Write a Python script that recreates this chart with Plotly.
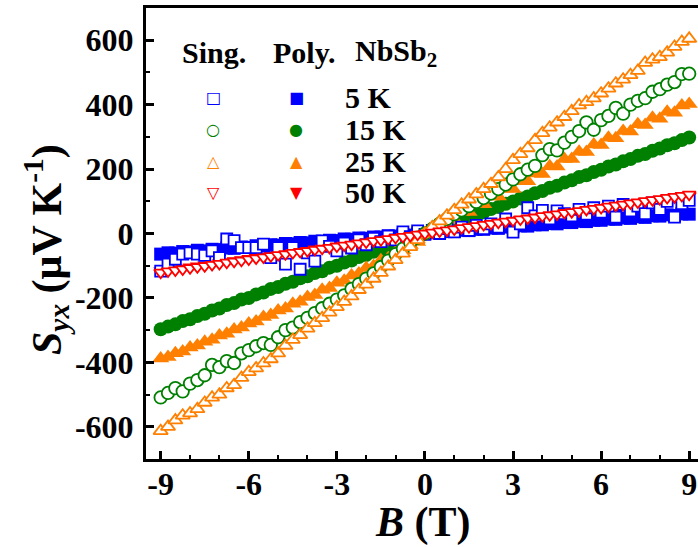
import plotly.graph_objects as go

# Magnetic field grid (T)
B = [-9.0, -8.75, -8.5, -8.25, -8.0, -7.75, -7.5, -7.25, -7.0, -6.75, -6.5, -6.25,
     -6.0, -5.75, -5.5, -5.25, -5.0, -4.75, -4.5, -4.25, -4.0, -3.75, -3.5, -3.25,
     -3.0, -2.75, -2.5, -2.25, -2.0, -1.75, -1.5, -1.25, -1.0, -0.75, -0.5, -0.25,
     0.0, 0.25, 0.5, 0.75, 1.0, 1.25, 1.5, 1.75, 2.0, 2.25, 2.5, 2.75,
     3.0, 3.25, 3.5, 3.75, 4.0, 4.25, 4.5, 4.75, 5.0, 5.25, 5.5, 5.75,
     6.0, 6.25, 6.5, 6.75, 7.0, 7.25, 7.5, 7.75, 8.0, 8.25, 8.5, 8.75, 9.0]

# Polycrystal (filled symbols)
poly_5K = [-64, -60, -61, -56, -57, -52, -54, -49, -50, -45, -46, -42,
           -43, -38, -39, -35, -36, -31, -32, -28, -29, -24, -25, -21,
           -22, -17, -18, -14, -15, -11, -11, -7, -8, -4, -5, -1,
           0, 3, 2, 6, 6, 10, 9, 13, 13, 17, 16, 20,
           20, 24, 23, 27, 27, 31, 30, 34, 34, 38, 37, 41,
           41, 45, 44, 48, 47, 52, 50, 55, 54, 58, 56, 61, 60]
poly_15K = [-297, -289, -282, -272, -266, -256, -249, -239, -233, -222, -216, -205,
            -200, -189, -183, -172, -166, -156, -150, -139, -133, -123, -117, -106,
            -100, -90, -84, -73, -67, -57, -51, -41, -34, -24, -18, -8,
            0, 9, 16, 26, 33, 43, 49, 59, 66, 76, 82, 92,
            99, 109, 115, 125, 132, 142, 148, 158, 165, 175, 181, 191,
            198, 208, 214, 224, 231, 241, 247, 257, 264, 274, 280, 290, 298]
poly_25K = [-388, -383, -372, -366, -354, -348, -336, -330, -317, -311, -298, -292,
            -279, -273, -259, -253, -239, -233, -218, -212, -197, -191, -175, -169,
            -153, -147, -130, -124, -107, -101, -83, -77, -58, -52, -36, -26,
            0, 18, 18, 42, 43, 67, 67, 91, 91, 115, 115, 139,
            138, 162, 162, 186, 185, 209, 208, 231, 231, 254, 253, 276,
            275, 297, 296, 318, 317, 339, 337, 359, 356, 378, 375, 397, 402]
poly_50K = [-116, -113, -110, -106, -103, -100, -97, -94, -90, -87, -84, -81,
            -77, -74, -71, -68, -64, -61, -58, -55, -52, -48, -45, -42,
            -39, -35, -32, -29, -26, -23, -19, -16, -13, -10, -6, -3,
            0, 3, 6, 10, 13, 16, 19, 23, 26, 29, 32, 35,
            39, 42, 45, 48, 52, 55, 58, 61, 65, 68, 71, 74,
            77, 81, 84, 87, 90, 94, 97, 100, 103, 106, 110, 113, 116]

# Single crystal (open symbols)
sing_5K = [-117, -95, -80, -64, -60, -64, -68, -54, -75, -17, -22, -44,
           -44, -44, -33, -75, -44, -95, -44, -111, -60, -86, -23, -40,
           -54, -30, -45, -20, -35, -15, -25, -8, -20, 5, -10, 8,
           -3, 10, 0, 15, 5, 20, 10, 25, 15, 30, 20, 45,
           4, 30, 80, 55, 72, 45, 70, 62, 55, 75, 60, 80,
           66, 85, 51, 90, 70, 85, 62, 95, 75, 100, 51, 93, 103]
sing_15K = [-509, -495, -480, -490, -466, -455, -440, -408, -415, -396, -402, -372,
            -362, -350, -340, -346, -322, -300, -292, -275, -262, -247, -232, -218,
            -205, -192, -172, -157, -140, -124, -104, -84, -64, -47, -29, -13,
            0, 14, 30, 45, 60, 72, 85, 98, 110, 124, 138, 152,
            168, 184, 198, 210, 243, 262, 258, 282, 300, 318, 345, 322,
            352, 365, 390, 372, 400, 412, 420, 440, 448, 462, 470, 495, 496]
sing_25K = [-613, -600, -580, -565, -558, -545, -525, -509, -500, -480, -470, -448,
            -430, -418, -403, -390, -372, -348, -330, -315, -295, -278, -262, -245,
            -228, -212, -195, -175, -158, -140, -122, -102, -82, -62, -42, -20,
            0, 20, 38, 56, 73, 90, 106, 122, 138, 154, 175, 200,
            228, 247, 265, 290, 312, 329, 345, 362, 380, 398, 408, 420,
            435, 450, 466, 478, 492, 505, 530, 540, 548, 562, 580, 595, 605]
sing_50K = [-121, -117, -114, -111, -107, -104, -101, -97, -94, -90, -87, -84,
            -80, -77, -74, -70, -67, -64, -60, -57, -54, -50, -47, -44,
            -40, -37, -34, -30, -27, -23, -20, -17, -13, -10, -7, -3,
            0, 3, 7, 10, 13, 17, 20, 23, 27, 30, 34, 37,
            40, 44, 47, 50, 54, 57, 60, 64, 67, 70, 74, 77,
            80, 84, 87, 90, 94, 97, 101, 104, 107, 111, 114, 117, 121]

temps = ["5 K", "15 K", "25 K", "50 K"]
colors = ["#0000FF", "#008000", "#FF8000", "#FF0000"]
poly_series = [poly_5K, poly_15K, poly_25K, poly_50K]
sing_series = [sing_5K, sing_15K, sing_25K, sing_50K]
filled_symbols = ["square", "circle", "triangle-up", "triangle-down"]
open_symbols = ["square", "circle", "triangle-up", "triangle-down"]
filled_sizes = [13, 14, 15, 13]
open_sizes = [11, 12.5, 12.5, 11.5]

x_tickvals = [-9, -6, -3, 0, 3, 6, 9]
x_ticktext = ["-9", "-6", "-3", "0", "3", "6", "9"]
y_tickvals = [-600, -400, -200, 0, 200, 400, 600]
y_ticktext = ["-600", "-400", "-200", "0", "200", "400", "600"]

FONT = "Liberation Serif"

fig = go.Figure()

for ys, c, sym, sz, name in zip(poly_series, colors, filled_symbols, filled_sizes, temps):
    fig.add_trace(go.Scatter(
        x=B, y=ys, mode="markers", name="Poly. " + name, showlegend=False,
        marker=dict(symbol=sym, size=sz, color=c, line=dict(width=0))))

for ys, c, sym, sz, name in zip(sing_series, colors, open_symbols, open_sizes, temps):
    fig.add_trace(go.Scatter(
        x=B, y=ys, mode="markers", name="Sing. " + name, showlegend=False,
        marker=dict(symbol=sym, size=sz, color="white",
                    line=dict(width=1.8, color=c))))

# plot-area geometry (pixels) used to place the text labels
L, T, W, H = 146, 8, 552, 451


def px(xp):
    return (xp - L) / W


def py(yp):
    return (T + H - yp) / H


ann = []
# header of the legend
ann.append(dict(x=px(214), y=py(53), text="<b>Sing.</b>"))
ann.append(dict(x=px(304), y=py(53), text="<b>Poly.</b>"))
ann.append(dict(x=px(396), y=py(53), text="<b>NbSb<sub>2</sub></b>"))
for i, name in enumerate(temps):
    ann.append(dict(x=px(343), y=py(97 + 32 * i), text="<b>" + name + "</b>", xanchor="left"))

open_glyphs = ["\u25A1", "\u25CB", "\u25B3", "\u25BD"]
filled_glyphs = ["\u25A0", "\u25CF", "\u25B2", "\u25BC"]
for i in range(4):
    ann.append(dict(x=px(213), y=py(97 + 32 * i), text=open_glyphs[i],
                    font=dict(family="DejaVu Sans", size=16, color=colors[i])))
    ann.append(dict(x=px(296), y=py(97 + 32 * i), text=filled_glyphs[i],
                    font=dict(family="DejaVu Sans", size=16, color=colors[i])))

# axis titles
ann.append(dict(x=px(46), y=py(250), textangle=-90,
                text="<b><i>S</i><sub><i>yx</i></sub> (\u03bcV K<sup>-1</sup>)</b>",
                font=dict(family=FONT, size=42, color="black")))
ann.append(dict(x=px(423), y=py(522), text="<b><i>B</i> (T)</b>",
                font=dict(family=FONT, size=42, color="black")))

annotations = []
for a in ann:
    base = dict(xref="paper", yref="paper", showarrow=False, xanchor="center", yanchor="middle",
                font=dict(family=FONT, size=30, color="black"))
    base.update(a)
    annotations.append(base)

axis_common = dict(ticks="inside", ticklen=8, tickwidth=2.5, tickcolor="black",
                   showline=True, linewidth=3, linecolor="black",
                   showgrid=False, zeroline=False, automargin=False,
                   tickfont=dict(family=FONT, size=32, color="black", weight="bold"))

fig.update_layout(
    width=698, height=547,
    margin=dict(l=L, r=0, t=T, b=547 - T - H, autoexpand=False),
    paper_bgcolor="white", plot_bgcolor="white",
    showlegend=False,
    annotations=annotations,
    xaxis=dict(range=[-9.5, 9.3], tickmode="array", tickvals=x_tickvals, ticktext=x_ticktext,
               mirror=True, ticklabelstandoff=-5,
               minor=dict(tickmode="linear", tick0=0, dtick=1, ticks="inside", ticklen=4,
                          tickwidth=2, tickcolor="black", showgrid=False),
               **axis_common),
    yaxis=dict(range=[-700, 700], tickmode="array", tickvals=y_tickvals, ticktext=y_ticktext,
               mirror=False, ticklabelstandoff=3,
               minor=dict(tickmode="linear", tick0=0, dtick=100, ticks="inside", ticklen=4,
                          tickwidth=2, tickcolor="black", showgrid=False),
               **axis_common),
)

fig.write_html("out.html", config={"displayModeBar": False},
               post_script="document.body.style.margin='0';")
